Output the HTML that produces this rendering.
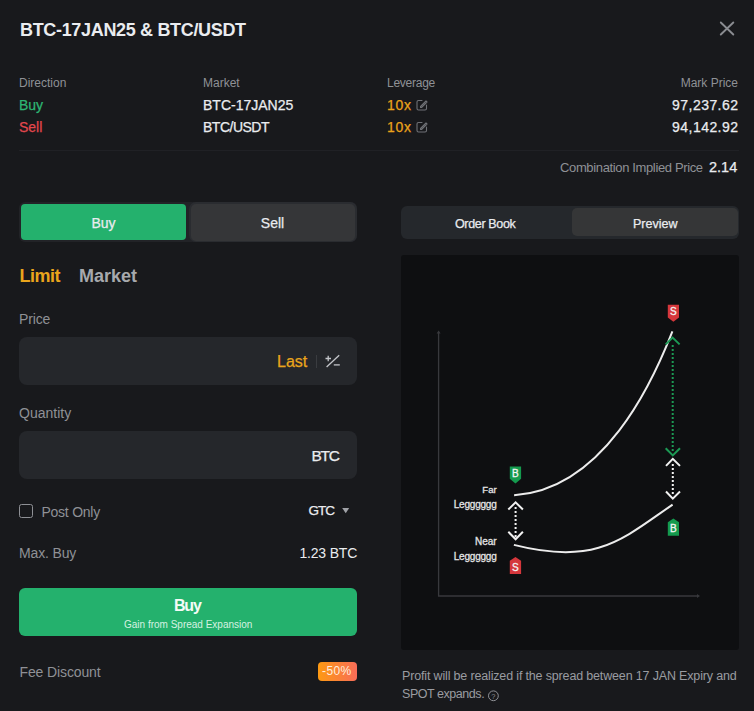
<!DOCTYPE html>
<html><head><meta charset="utf-8">
<style>
*{margin:0;padding:0;box-sizing:border-box}
html,body{width:754px;height:711px;overflow:hidden;background:#18191c}
body{font-family:"Liberation Sans",sans-serif;color:#eaecef;position:relative}
.a{position:absolute;white-space:nowrap;line-height:1}
.g{color:#8f9196}
.w{color:#eaecef}
.b{font-weight:bold}
.r{text-align:right}
.m{-webkit-text-stroke:0.25px currentColor}
</style></head>
<body>
<!-- title -->
<div class="a b w" style="left:20px;top:21px;font-size:18px;letter-spacing:-0.33px">BTC-17JAN25 &amp; BTC/USDT</div>
<svg class="a" style="left:0;top:0" width="754" height="60"><path d="M720.8 22.5L733.3 34.5M733.3 22.5L720.8 34.5" stroke="#8a8c91" stroke-width="1.9" stroke-linecap="round" fill="none"/></svg>

<!-- header table -->
<div class="a g" style="left:19px;top:77px;font-size:12px">Direction</div>
<div class="a g" style="left:203px;top:77px;font-size:12px">Market</div>
<div class="a g" style="left:387px;top:77px;font-size:12px;letter-spacing:-0.25px">Leverage</div>
<div class="a g r" style="right:16px;top:77px;font-size:12px">Mark Price</div>

<div class="a m" style="left:19px;top:98px;font-size:14px;color:#2eb673">Buy</div>
<div class="a w m" style="left:203px;top:98px;font-size:14px">BTC-17JAN25</div>
<div class="a m" style="left:387px;top:98px;font-size:14px;color:#eba31a;letter-spacing:0.7px">10x</div>
<div class="a w r m" style="right:16px;top:98px;font-size:14px;letter-spacing:0.45px;margin-right:-0.45px">97,237.62</div>

<div class="a m" style="left:19px;top:120px;font-size:14px;color:#e2474d">Sell</div>
<div class="a w m" style="left:203px;top:120px;font-size:14px;letter-spacing:-0.5px">BTC/USDT</div>
<div class="a m" style="left:387px;top:120px;font-size:14px;color:#eba31a;letter-spacing:0.7px">10x</div>
<div class="a w r m" style="right:16px;top:120px;font-size:14px;letter-spacing:0.45px;margin-right:-0.45px">94,142.92</div>

<svg class="a" style="left:414px;top:97px" width="16" height="38" viewBox="414 97 16 38">
 <g stroke="#6f7176" stroke-width="1.1" fill="none" stroke-linecap="round" stroke-linejoin="round">
  <path d="M422 100.5H418.5a1.5 1.5 0 0 0-1.5 1.5v6.5a1.5 1.5 0 0 0 1.5 1.5h6.5a1.5 1.5 0 0 0 1.5-1.5V105"/>
  <path d="M420.5 106.5l5.5-5.5 1 1-5.5 5.5h-1z"/>
  <path d="M422 122.5H418.5a1.5 1.5 0 0 0-1.5 1.5v6.5a1.5 1.5 0 0 0 1.5 1.5h6.5a1.5 1.5 0 0 0 1.5-1.5V127"/>
  <path d="M420.5 128.5l5.5-5.5 1 1-5.5 5.5h-1z"/>
 </g>
</svg>

<div class="a" style="left:19px;top:150px;width:720px;height:1px;background:#202125"></div>
<div class="a g" style="left:560px;top:161px;font-size:13px;letter-spacing:-0.36px">Combination Implied Price</div>
<div class="a w m" style="left:709px;top:160px;font-size:14.5px">2.14</div>

<!-- left column -->
<div class="a" style="left:19px;top:202px;width:338px;height:40px;background:#222327;border-radius:6px"></div>
<div class="a" style="left:21px;top:204px;width:165px;height:36px;background:#24b16d;border-radius:4px"></div>
<div class="a" style="left:189px;top:202.3px;width:168px;height:40.2px;background:#2a2c30;border-radius:7px"></div>
<div class="a" style="left:191px;top:204px;width:164px;height:36.6px;background:#353638;border-radius:5px"></div>
<div class="a w m" style="left:21px;top:216px;width:165px;text-align:center;font-size:14px">Buy</div>
<div class="a w m" style="left:189px;top:216px;width:167px;text-align:center;font-size:14px">Sell</div>

<div class="a b" style="left:19.5px;top:267px;font-size:18px;color:#eaa51c;letter-spacing:-0.5px">Limit</div>
<div class="a b" style="left:79px;top:267px;font-size:18px;color:#a7a9ad">Market</div>

<div class="a g" style="left:19px;top:312px;font-size:14px;letter-spacing:-0.15px">Price</div>
<div class="a" style="left:19px;top:337px;width:338px;height:48px;background:#25272b;border-radius:8px"></div>
<div class="a m" style="left:277px;top:354px;font-size:16px;color:#eaa51c">Last</div>
<div class="a" style="left:315.5px;top:354.5px;width:1px;height:13px;background:#3a3c40"></div>
<svg class="a" style="left:320px;top:350px" width="24" height="22" viewBox="320 350 24 22">
 <g stroke="#c4c6ca" stroke-width="1.3" fill="none">
  <path d="M325.5 358.5h5.5M328.2 355.7v5.5"/>
  <path d="M339.2 355.2L326.6 367"/>
  <path d="M333.8 364.9h6"/>
 </g>
</svg>

<div class="a g" style="left:19px;top:406px;font-size:14px">Quantity</div>
<div class="a" style="left:19px;top:431px;width:338px;height:48px;background:#25272b;border-radius:8px"></div>
<div class="a w m" style="left:311.5px;top:447.5px;font-size:15.5px;letter-spacing:-1.3px">BTC</div>

<div class="a" style="left:19px;top:504px;width:14px;height:14px;border:1.5px solid #8e9095;border-radius:2.5px"></div>
<div class="a g" style="left:41.5px;top:504.5px;font-size:14px;letter-spacing:-0.25px">Post Only</div>
<div class="a w m" style="left:308.5px;top:504px;font-size:13.5px;letter-spacing:-1px">GTC</div>
<svg class="a" style="left:340px;top:505px" width="12" height="10" viewBox="340 505 12 10"><path d="M342.2 508h7l-3.5 5.2z" fill="#a0a2a7"/></svg>

<div class="a g" style="left:19px;top:546px;font-size:14px;letter-spacing:-0.15px">Max. Buy</div>
<div class="a w" style="left:299.5px;top:546px;font-size:14px;letter-spacing:-0.2px">1.23 BTC</div>

<div class="a" style="left:19px;top:588px;width:338px;height:48px;background:#24b16d;border-radius:6px"></div>
<div class="a b" style="left:174px;top:598px;font-size:16px;letter-spacing:-1.2px;color:#f4fbf7">Buy</div>
<div class="a" style="left:124px;top:620px;font-size:10px;color:#d6f1e1">Gain from Spread Expansion</div>

<div class="a g" style="left:19.5px;top:665px;font-size:14px;letter-spacing:-0.12px">Fee Discount</div>
<div class="a" style="left:318px;top:662px;width:39px;height:19px;background:linear-gradient(90deg,#fd9a12,#f86c58);border-radius:4px"></div>
<div class="a" style="left:322px;top:665px;font-size:12px;letter-spacing:0.4px;color:#ffeedd">-50%</div>

<!-- right column -->
<div class="a" style="left:401px;top:205.5px;width:338px;height:33.5px;background:#25282c;border-radius:6px"></div>
<div class="a" style="left:571.6px;top:208.3px;width:166.9px;height:28.2px;background:#353637;border-radius:5px"></div>
<div class="a w m" style="left:455px;top:218px;font-size:12.5px;letter-spacing:-0.35px">Order Book</div>
<div class="a w m" style="left:633px;top:218px;font-size:12.5px">Preview</div>

<div class="a" style="left:401px;top:254.5px;width:338px;height:395px;background:#0e0f11;border-radius:3px"></div>

<svg class="a" style="left:0;top:0" width="754" height="711" viewBox="0 0 754 711">
 <!-- axes -->
 <g stroke="#38393d" stroke-width="1.3" fill="none">
  <path d="M438.6 332V596H698"/>
 </g>
 <path d="M436.6 333.5L438.6 330.5L440.6 333.5z" fill="#38393d"/>
 <path d="M697 594L700 596L697 598z" fill="#38393d"/>
 <!-- curves -->
 <g stroke="#ececec" stroke-width="2" fill="none">
  <path d="M514.1 495.2C603.3 489.5 652.1 383.2 672.4 331.3"/>
  <path d="M513.9 544.9C595.7 565.7 621.4 540 672.6 504.6"/>
 </g>
 <!-- green arrow -->
 <g stroke="#1c9a55" stroke-width="2" fill="none">
  <path d="M665.7 344.4L672.6 337.6L679.6 344.4"/>
  <path d="M665.7 448.2L672.8 455.4L680 448.2"/>
  <path d="M672.7 345V453" stroke-dasharray="2 2"/>
 </g>
 <!-- white arrows -->
 <g stroke="#f2f2f2" stroke-width="2" fill="none">
  <path d="M666 465.9L672.8 458.9L680 465.9"/>
  <path d="M666 491.5L672.8 498.6L680 491.5"/>
  <path d="M672.8 464V494" stroke-dasharray="2 2"/>
  <path d="M508.3 509.5L515.6 502.3L522.9 509.5"/>
  <path d="M508.3 531.8L515.6 539.3L522.9 531.8"/>
  <path d="M515.6 507V537" stroke-dasharray="2 2"/>
 </g>
 <!-- tags -->
 <path d="M667.8 304.8h11.2v12.6l-5.6 4.4l-5.6-4.4z" fill="#d5373c"/>
 <path d="M509.8 466.4h11.3v12.4l-5.65 4.6l-5.65-4.6z" fill="#149a4e"/>
 <path d="M667.8 522.2l5.6-3.8l5.6 3.8v13.6h-11.2z" fill="#149a4e"/>
 <path d="M509.8 560.8l5.65-3.8l5.65 3.8v13.1h-11.3z" fill="#d5373c"/>
 <g font-family="Liberation Sans" font-size="10" fill="#f4f4f4" stroke="#f4f4f4" stroke-width="0.3" text-anchor="middle">
  <text x="673.4" y="315.2">S</text>
  <text x="515.45" y="476.7">B</text>
  <text x="673.4" y="532.2">B</text>
  <text x="515.45" y="570.5">S</text>
 </g>
 <g font-family="Liberation Sans" font-size="10" fill="#e4e4e4" stroke="#e4e4e4" stroke-width="0.3" text-anchor="end">
  <text x="496.6" y="493.4" font-size="9.5">Far</text>
  <text x="496.6" y="507.6" letter-spacing="-0.2">Legggggg</text>
  <text x="496.6" y="544.8">Near</text>
  <text x="496.6" y="559.8" letter-spacing="-0.2">Legggggg</text>
 </g>
 <!-- help icon -->
 <circle cx="493.4" cy="695.8" r="4.9" stroke="#8f9196" stroke-width="1" fill="none"/>
 <text x="493.4" y="698.6" font-family="Liberation Sans" font-size="7.5" fill="#8f9196" text-anchor="middle">?</text>
</svg>

<div class="a g" style="left:402px;top:670px;font-size:12.5px;letter-spacing:-0.16px;color:#9a9ca1">Profit will be realized if the spread between 17 JAN Expiry and</div>
<div class="a g" style="left:402px;top:688px;font-size:12.5px;letter-spacing:-0.45px;color:#9a9ca1">SPOT expands.</div>
</body></html>
